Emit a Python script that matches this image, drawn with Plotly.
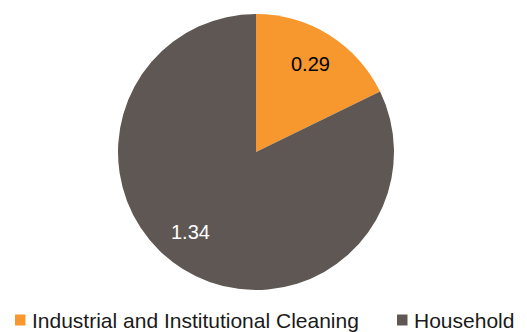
import math
import plotly.graph_objects as go

# Market split by segment
segments = ["Industrial and Institutional Cleaning", "Household"]
values = [0.29, 1.34]
colors = ["#F7982F", "#5E5753"]
label_colors = ["#000000", "#FFFFFF"]

W, H = 527, 332
cx, cy, R = 256, 152, 138  # pie centre and radius in pixels
FONT = "Liberation Sans, Arial, sans-serif"

fig = go.Figure(
    go.Pie(
        labels=segments,
        values=values,
        sort=False,
        direction="clockwise",
        rotation=0,
        marker=dict(colors=colors, line=dict(width=0)),
        textinfo="none",
        hoverinfo="label+value",
        domain=dict(
            x=[(cx - R) / W, (cx + R) / W],
            y=[1 - (cy + R) / H, 1 - (cy - R) / H],
        ),
    )
)

# value labels inside each slice, near its mid-angle
total = sum(values)
start = 0.0
angle_nudge = [0, 7]  # degrees
annotations = []
for v, c, nudge in zip(values, label_colors, angle_nudge):
    mid = (start + v / 2) / total * 2 * math.pi + math.radians(nudge)
    start += v
    r = 0.75 * R
    px = cx + r * math.sin(mid)
    py = cy - r * math.cos(mid)
    annotations.append(
        dict(
            x=px / W, y=1 - py / H, xref="paper", yref="paper",
            xanchor="center", yanchor="middle",
            text=f"{v:.2f}", showarrow=False,
            font=dict(family=FONT, size=20, color=c),
        )
    )

# legend row along the bottom: colour square + segment name
shapes = []
legend_y = 320
legend_x = [15, 397]
for name, col, lx in zip(segments, colors, legend_x):
    shapes.append(
        dict(
            type="rect", xref="paper", yref="paper",
            x0=lx / W, x1=(lx + 10.5) / W,
            y0=1 - (legend_y + 5.5) / H, y1=1 - (legend_y - 5.5) / H,
            fillcolor=col, line=dict(width=0),
        )
    )
    annotations.append(
        dict(
            x=(lx + 15) / W, y=1 - legend_y / H, xref="paper", yref="paper",
            xanchor="left", yanchor="middle", text=name, showarrow=False,
            font=dict(family=FONT, size=21, color="#1a1a1a"),
        )
    )

fig.update_layout(
    width=W, height=H,
    margin=dict(l=0, r=0, t=0, b=0),
    paper_bgcolor="white",
    plot_bgcolor="white",
    annotations=annotations,
    shapes=shapes,
    showlegend=False,
)

fig.write_html("out.html")
